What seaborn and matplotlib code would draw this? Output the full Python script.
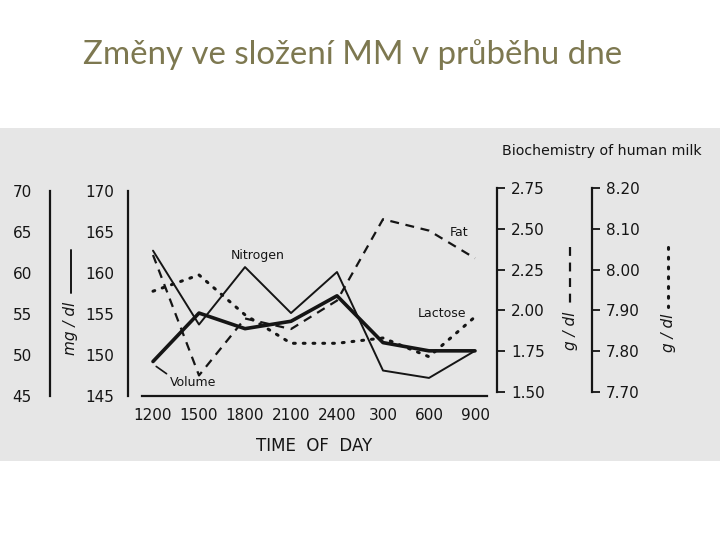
import matplotlib
matplotlib.use("Agg")
import matplotlib.pyplot as plt
from matplotlib.patches import Rectangle
from matplotlib.lines import Line2D
import seaborn as sns
import pandas as pd
import numpy as np

# data
times = ['1200', '1500', '1800', '2100', '2400', '300', '600', '900']
nitrogen = [162.7, 153.7, 160.7, 155.1, 160.1, 148.1, 147.2, 150.5]   # mg/dl
volume = [49.2, 55.1, 53.2, 54.1, 57.2, 51.5, 50.5, 50.5]             # mg/dl scale 45-70
fat = [2.34, 1.60, 1.95, 1.885, 2.06, 2.56, 2.49, 2.32]               # g/dl
lactose = [7.947, 7.987, 7.889, 7.819, 7.819, 7.832, 7.786, 7.884]     # g/dl

vol_ticks = [45, 50, 55, 60, 65, 70]
nit_ticks = [145, 150, 155, 160, 165, 170]
fat_ticks = [1.50, 1.75, 2.00, 2.25, 2.50, 2.75]
lac_ticks = [7.70, 7.80, 7.90, 8.00, 8.10, 8.20]

df = pd.DataFrame({'pos': np.arange(len(times)), 'time': times,
                   'nitrogen': nitrogen, 'volume': volume,
                   'fat': fat, 'lactose': lactose})

sns.set_style("white")
plt.rcParams['font.family'] = ['DejaVu Sans']
INK = '#151515'

W, H = 720, 540
fig = plt.figure(figsize=(7.2, 5.4), dpi=100, facecolor='white')

# grey scanned-image panel (behind the axes)
fig.patches.append(Rectangle((0, 1 - 460.7 / H), 1, (460.7 - 127.7) / H,
                             transform=fig.transFigure, facecolor='#e6e6e6',
                             edgecolor='none', zorder=-5))

fig.text(353 / W, 1 - 55 / H, 'Změny ve složení MM v průběhu dne',
         ha='center', va='center', fontsize=23.8, color='#7d7850',
         family=['Lato', 'DejaVu Sans'])


def px_axes(left, right, top, bottom, **kw):
    return fig.add_axes([left / W, 1 - bottom / H, (right - left) / W, (bottom - top) / H], **kw)


xl = (-11 / 46, 7 + 12 / 46)

ax = px_axes(142, 487, 190.7, 396)
ax_vol = px_axes(142, 487, 190.7, 396, sharex=ax)
ax_fat = px_axes(142, 487, 188.3, 391.7, sharex=ax)
ax_lac = px_axes(142, 487, 188.3, 391.7, sharex=ax)

sns.lineplot(data=df, x='pos', y='nitrogen', ax=ax, color=INK, lw=1.4)
sns.lineplot(data=df, x='pos', y='volume', ax=ax_vol, color=INK, lw=2.6)
sns.lineplot(data=df, x='pos', y='fat', ax=ax_fat, color=INK, lw=1.6, linestyle=(0, (4, 3)))
sns.lineplot(data=df, x='pos', y='lactose', ax=ax_lac, color=INK, lw=2.2, linestyle=(0, (0.6, 2.6)),
             dash_capstyle='round')

for a in (ax, ax_vol, ax_fat, ax_lac):
    a.set_facecolor('none')
    for s in a.spines.values():
        s.set_visible(False)
        s.set_color(INK)
        s.set_linewidth(1.6)
    a.set_xlabel('')
    a.set_ylabel('')

ax.set_xlim(*xl)
ax.set_ylim(145, 170)
ax_vol.set_ylim(45, 70)
ax_fat.set_ylim(1.50, 2.75)
ax_lac.set_ylim(7.70, 8.20)

# x axis
ax.spines['bottom'].set_visible(True)
ax.set_xticks(df['pos'])
ax.set_xticklabels(times, fontsize=11, color=INK)
ax.tick_params(axis='x', direction='in', length=4, width=1.3, pad=9, colors=INK)
ax.set_xlabel('TIME  OF  DAY', fontsize=12, color=INK, labelpad=10)

# nitrogen axis 145-170
ax.spines['left'].set_visible(True)
ax.spines['left'].set_position(('outward', 14 * 0.72))
ax.set_yticks(nit_ticks)
ax.set_yticklabels([str(t) for t in nit_ticks], fontsize=11, color=INK)
ax.tick_params(axis='y', direction='out', length=7, width=1.3, pad=3, colors=INK)

for a in (ax_vol, ax_fat, ax_lac):
    a.tick_params(axis='x', bottom=False, labelbottom=False)

# volume axis 45-70
ax_vol.spines['left'].set_visible(True)
ax_vol.spines['left'].set_position(('outward', 92 * 0.72))
ax_vol.set_yticks(vol_ticks)
ax_vol.set_yticklabels([str(t) for t in vol_ticks], fontsize=11, color=INK)
ax_vol.tick_params(axis='y', direction='out', length=6, width=1.3, pad=7, colors=INK)

# fat axis
ax_fat.spines['right'].set_visible(True)
ax_fat.spines['right'].set_position(('outward', 10 * 0.72))
ax_fat.yaxis.tick_right()
ax_fat.set_yticks(fat_ticks)
ax_fat.set_yticklabels([f'{t:.2f}' for t in fat_ticks], fontsize=11, color=INK)
ax_fat.tick_params(axis='y', direction='out', length=6, width=1.3, pad=4, colors=INK)

# lactose axis
ax_lac.spines['right'].set_visible(True)
ax_lac.spines['right'].set_position(('outward', 105 * 0.72))
ax_lac.yaxis.tick_right()
ax_lac.set_yticks(lac_ticks)
ax_lac.set_yticklabels([f'{t:.2f}' for t in lac_ticks], fontsize=11, color=INK)
ax_lac.tick_params(axis='y', direction='out', length=6, width=1.3, pad=4, colors=INK)

# series labels
ax.text(2.28, 162.1, 'Nitrogen', fontsize=9, ha='center', va='center', color=INK)
ax.text(6.65, 164.9, 'Fat', fontsize=9, ha='center', va='center', color=INK)
ax.text(6.28, 155.05, 'Lactose', fontsize=9, ha='center', va='center', color=INK)
ax_vol.annotate('Volume', xy=(0.07, 48.6), xytext=(0.87, 46.6), fontsize=9,
                ha='center', va='center', color=INK,
                arrowprops=dict(arrowstyle='-', color=INK, lw=1.2, relpos=(0.05, 0.9),
                                shrinkA=0, shrinkB=0))

# unit labels with line-style keys
fig.text(71 / W, 1 - 328 / H, 'mg / dl', rotation=90, ha='center', va='center',
         fontsize=11, color=INK, style='italic')
fig.lines.append(Line2D([71 / W, 71 / W], [1 - 250 / H, 1 - 293 / H],
                        transform=fig.transFigure, color=INK, lw=1.4))
fig.text(570 / W, 1 - 331 / H, 'g / dl', rotation=90, ha='center', va='center',
         fontsize=11, color=INK, style='italic')
fig.lines.append(Line2D([570 / W, 570 / W], [1 - 247 / H, 1 - 307 / H],
                        transform=fig.transFigure, color=INK, lw=1.6, linestyle=(0, (4, 3))))
fig.text(668 / W, 1 - 333 / H, 'g / dl', rotation=90, ha='center', va='center',
         fontsize=11, color=INK, style='italic')
fig.lines.append(Line2D([668 / W, 668 / W], [1 - 247 / H, 1 - 307 / H],
                        transform=fig.transFigure, color=INK, lw=2.2,
                        linestyle=(0, (0.6, 2.6)), dash_capstyle='round'))

fig.text(702 / W, 1 - 151 / H, 'Biochemistry of human milk', ha='right', va='center',
         fontsize=10.2, color=INK)

for a in (ax, ax_vol, ax_fat, ax_lac):
    if a.get_legend():
        a.get_legend().remove()

fig.savefig('out.png', dpi=100, facecolor='white')
